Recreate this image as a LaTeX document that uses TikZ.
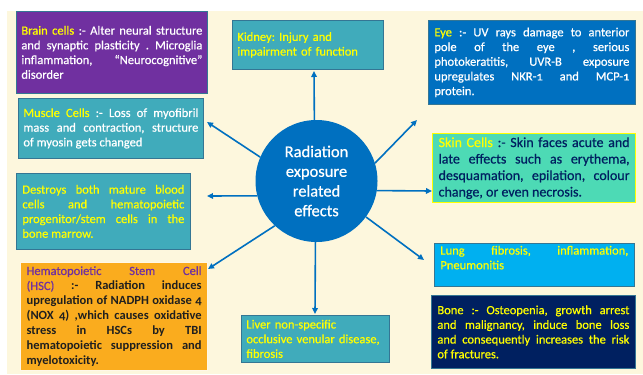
\documentclass[tikz,border=0pt]{standalone}
\usepackage{fontspec}
\setmainfont{Carlito}[Numbers=OldStyle,UprightFeatures={FakeBold=0.6}]
\usepackage{xcolor}
\usetikzlibrary{arrows.meta,positioning}

\definecolor{cream}{RGB}{253,247,221}
\definecolor{edge}{RGB}{52,118,148}
\definecolor{hubblue}{RGB}{0,112,192}
\definecolor{purp}{RGB}{112,48,160}
\definecolor{teal}{RGB}{64,171,187}
\definecolor{mint}{RGB}{77,218,181}
\definecolor{orng}{RGB}{250,172,30}
\definecolor{sky}{RGB}{0,176,240}
\definecolor{navy}{RGB}{0,32,96}
\definecolor{ylw}{RGB}{255,255,0}

\newcommand{\kw}[1]{\textcolor{ylw}{#1}}
\hbadness=10000
\frenchspacing

\begin{document}
\begin{tikzpicture}[
  x=1bp,y=-1bp,
  every node/.style={font=\fontsize{12.5bp}{14.7bp}\selectfont},
  bx/.style={rectangle,draw=edge,line width=0.8bp,anchor=north west,
             inner xsep=5bp,inner ysep=0pt,align=justify},
  hub/.style={circle,fill=hubblue,text=white,minimum size=122bp,inner sep=0pt,
              align=center,font=\fontsize{16.5bp}{19.7bp}\selectfont},
  arr/.style={draw=hubblue,line width=1.6bp,-{Triangle[length=6bp,width=5.5bp]}}]

  % --- page and backdrop
  \useasboundingbox (0,0) rectangle (643,374);
  \fill[cream] (7,11) rectangle (643,374);

  % --- centre
  \node[hub] (hub) at (316.5,181) {Radiation\\exposure\\related\\effects};

  % --- left column
  \node[bx,fill=purp,text=white,text width=181bp,minimum height=82bp]
    (brain) at (16,11)
    {\kw{Brain cells} :- Alter neural structure\linebreak
     and synaptic plasticity . Microglia\linebreak
     inflammation, “Neurocognitive”\linebreak disorder};
  \node[bx,fill=teal,text=white,text width=175bp,minimum height=60bp]
    (muscle) at (18,98)
    {\kw{Muscle Cells} :- Loss of myofibril\linebreak
     mass and contraction, structure\linebreak of myosin gets changed};
  \node[bx,fill=teal,text=ylw,inner xsep=6bp,text width=162bp,minimum height=76bp]
    (blood) at (16,173)
    {Destroys both mature blood\linebreak
     cells and hematopoietic\linebreak
     progenitor/stem cells in the\linebreak bone marrow.};
  \node[bx,fill=orng,draw=white!90!orng,line width=1.2bp,text=black!88,
        inner xsep=6bp,text width=175bp,minimum height=108bp,
        font=\fontsize{12.5bp}{15bp}\selectfont]
    (hsc) at (20,262)
    {\textcolor{purp}{Hematopoietic Stem Cell\linebreak (HSC)}
     \textbf{:- Radiation induces\linebreak
     upregulation of NADPH oxidase 4\linebreak
     (NOX 4) ,which causes oxidative\linebreak
     stress in HSCs by TBI\linebreak
     hematopoietic suppression and\linebreak myelotoxicity.}};

  % --- middle column
  \node[bx,fill=teal,text=ylw,align=left,text width=141bp,minimum height=49bp]
    (kidney) at (232,20) {Kidney: Injury and\\impairment of function};
  \node[bx,fill=teal,text=ylw,align=left,text width=138bp,minimum height=47bp]
    (liver) at (241,315)
    {Liver non-specific\\occlusive venular disease,\\fibrosis};

  % --- right column
  \node[bx,fill=hubblue,text=white,inner xsep=6bp,text width=195bp,minimum height=84bp]
    (eye) at (428,20)
    {\kw{Eye} :- UV rays damage to anterior\linebreak
     pole of the eye , serious\linebreak
     photokeratitis, UVR-B exposure\linebreak
     upregulates NKR-1 and MCP-1\linebreak protein.};
  \node[bx,fill=mint,draw=ylw,line width=1.2bp,text=navy,inner xsep=6bp,
        text width=191bp,minimum height=69bp,
        font=\fontsize{14bp}{16.5bp}\selectfont]
    (skin) at (432,133)
    {\kw{Skin Cells} :- Skin faces acute and\linebreak
     late effects such as erythema,\linebreak
     desquamation, epilation, colour\linebreak
     change, or even necrosis.};
  \node[bx,fill=sky,text=ylw,inner xsep=6bp,text width=188bp,minimum height=43bp]
    (lung) at (434,243)
    {Lung fibrosis, inflammation,\linebreak Pneumonitis\\\mbox{}};
  \node[bx,fill=navy,text=ylw,inner xsep=6bp,text width=192bp,minimum height=73bp]
    (bone) at (431,295)
    {Bone :- Osteopenia, growth arrest\linebreak
     and malignancy, induce bone loss\linebreak
     and consequently increases the risk\linebreak of fractures.};

  % --- arrow tips (they stop short of the boxes)
  \coordinate (tKid) at (314,71);
  \coordinate (tMus) at (207,122);
  \coordinate (tEye) at (417,120);
  \coordinate (tBld) at (207,196);
  \coordinate (tSkn) at (432,191);
  \coordinate (tHsc) at (208,269);
  \coordinate (tLiv) at (315,314);
  \coordinate (tLng) at (424,260);

  \draw[arr] (hub.92)  -- (tKid);
  \draw[arr] (hub.157) -- (tMus);
  \draw[arr] (hub.17)  -- (tEye);
  \draw[arr] (hub.194) -- (tBld);
  \draw[arr] (hub.351) -- (tSkn);
  \draw[arr] (hub.227) -- (tHsc);
  \draw[arr] (hub.269) -- (tLiv);
  \draw[arr] (hub.324) -- (tLng);
\end{tikzpicture}
\end{document}
